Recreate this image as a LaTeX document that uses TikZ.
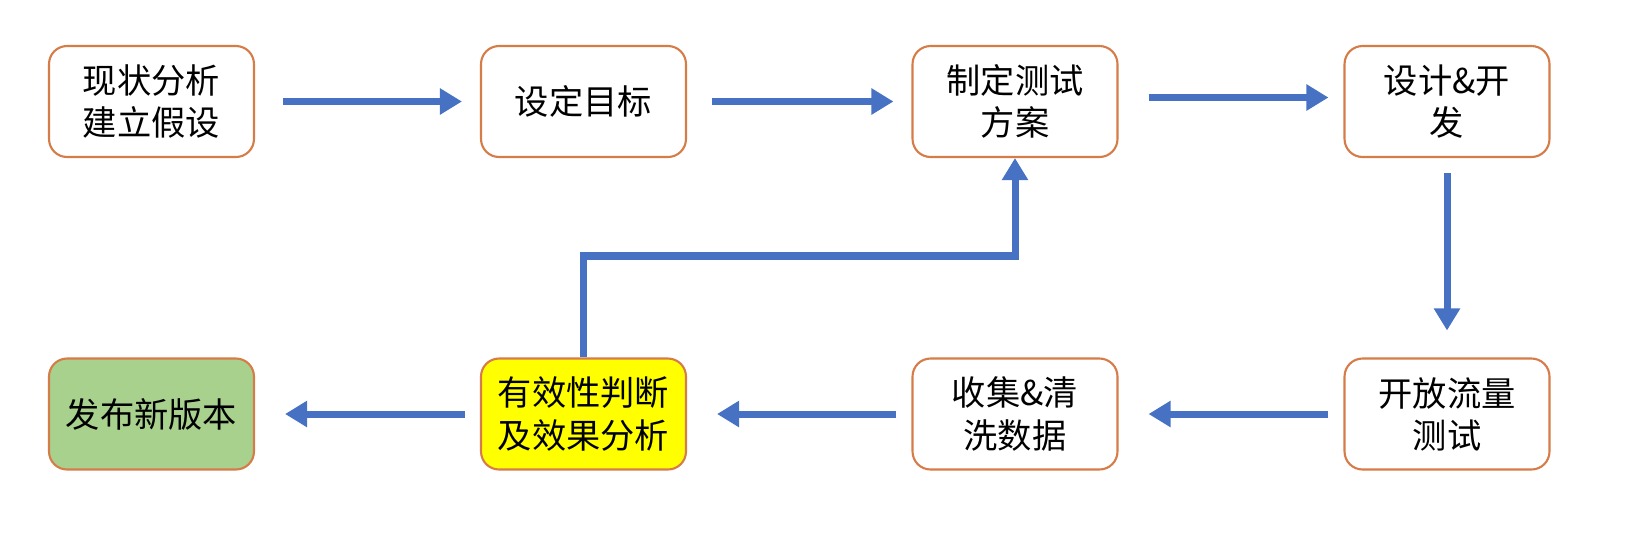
\documentclass[tikz,border=0pt]{standalone}
\usepackage{fontspec}
\setmainfont{Noto Sans CJK SC}
\usetikzlibrary{arrows.meta}
\definecolor{bord}{RGB}{214,124,72}
\definecolor{arr}{RGB}{71,114,196}
\definecolor{grn}{RGB}{169,209,142}
\definecolor{yel}{RGB}{255,255,0}
\tikzset{
 box/.style={draw=bord,line width=1.2pt,rounded corners=0.36cm,minimum width=4.1cm,minimum height=2.22cm,align=center,font=\fontsize{19.5pt}{24pt}\selectfont,fill=white,inner sep=2pt},
 conn/.style={draw=arr,line width=4pt,-{Triangle[length=0.44cm,width=0.5cm]}},
}
\begin{document}
\begin{tikzpicture}[x=0.02cm,y=-0.02cm]
\useasboundingbox (0,0) rectangle (1638,539);
\node[box] (a) at (151.5,101.5) {现状分析\\建立假设};
\node[box] (b) at (583.5,101.5) {设定目标};
\node[box] (c) at (1015,101.5) {制定测试\\方案};
\node[box] (d) at (1447,101.5) {设计\&开\\发};
\node[box] (e) at (1447,414) {开放流量\\测试};
\node[box] (f) at (1015,414) {收集\&清\\洗数据};
\node[box,fill=yel] (g) at (583.5,414) {有效性判断\\及效果分析};
\node[box,fill=grn] (h) at (151.5,414) {发布新版本};
\coordinate (k) at (1015,256);
\draw[conn,shorten <=0.56cm,shorten >=0.36cm] (a) -- (b);
\draw[conn,shorten <=0.5cm,shorten >=0.36cm] (b) -- (c);
\draw[conn,shorten <=0.6cm,shorten >=0.3cm] (c.east) ++(0,-4) coordinate (c1) (c1) -- (c1 -| d.west);
\draw[conn,shorten <=0.3cm,shorten >=0.54cm] (d) -- (e);
\draw[conn,shorten <=0.3cm,shorten >=0.6cm] (e) -- (f);
\draw[conn,shorten <=0.3cm,shorten >=0.6cm] (f) -- (g);
\draw[conn,shorten <=0.3cm,shorten >=0.6cm] (g) -- (h);
\draw[conn,-] (g.north) |- (k);
\draw[conn,shorten <=-2pt] (k) -- (c.south);
\end{tikzpicture}
\end{document}
